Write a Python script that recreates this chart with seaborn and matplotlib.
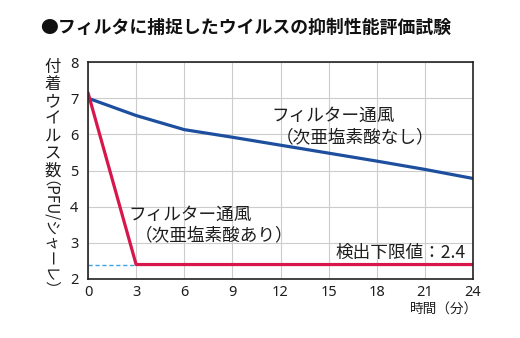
import matplotlib
matplotlib.use("Agg")
import matplotlib.pyplot as plt
import seaborn as sns
import pandas as pd

# Data
hours = [0, 3, 6, 9, 12, 15, 18, 21, 24]
no_hocl = [7.0, 6.52, 6.13, 5.92, 5.70, 5.48, 5.26, 5.03, 4.78]
with_hocl = [7.15, 2.4, 2.4, 2.4, 2.4, 2.4, 2.4, 2.4, 2.4]
limit_x = [0, 3]
limit_y = [2.4, 2.4]
xticks = [0, 3, 6, 9, 12, 15, 18, 21, 24]
yticks = [2, 3, 4, 5, 6, 7, 8]

sns.set_theme(style="white")
plt.rcParams['font.family'] = ['Noto Sans CJK JP', 'DejaVu Sans']

BLUE = "#1d4f9e"
RED = "#d7164c"
DASH = "#3ea3e3"
TXT = "#1e1e1e"

fig = plt.figure(figsize=(5.2, 3.38), dpi=100)
ax = fig.add_axes([88/520, 1-279/338, (473-88)/520, (279-62)/338])

df = pd.DataFrame({"t": hours, "a": no_hocl, "b": with_hocl})
sns.lineplot(x=limit_x, y=limit_y, ax=ax, color=DASH, lw=1.0, linestyle=(0, (3, 2)))
sns.lineplot(data=df, x="t", y="a", ax=ax, color=BLUE, lw=2.3)
sns.lineplot(data=df, x="t", y="b", ax=ax, color=RED, lw=2.3)

ax.set_xlim(0, 24)
ax.set_ylim(2, 8)
ax.set_xticks(xticks)
ax.set_yticks(yticks)
ax.set_xticklabels([str(v) for v in xticks], fontsize=10.5, family='Noto Sans')
ax.set_yticklabels([str(v) for v in yticks], fontsize=10.5, family='Noto Sans')
ax.tick_params(axis='x', length=0, pad=4, colors=TXT)
ax.tick_params(axis='y', length=0, pad=7, colors=TXT)
ax.grid(True, color="#cccccc", lw=0.8)
ax.set_axisbelow(True)
for s in ax.spines.values():
    s.set_color("#222222")
    s.set_linewidth(1.2)
ax.set_xlabel("")
ax.set_ylabel("")

# annotations
fs = 12.7
ax.text(11.45, 6.51, "フィルター通風", fontsize=fs, ha='left', va='center', color=TXT)
ax.text(11.7, 5.93, "（次亜塩素酸なし）", fontsize=fs, ha='left', va='center', color=TXT)
ax.text(2.55, 3.77, "フィルター通風", fontsize=fs, ha='left', va='center', color=TXT)
ax.text(2.9, 3.22, "（次亜塩素酸あり）", fontsize=fs, ha='left', va='center', color=TXT)
ax.text(23.55, 2.72, "検出下限値：2.4", fontsize=fs, ha='right', va='center', color=TXT)

fig.text(478/520, 1-309/338, "時間（分）", fontsize=9.8, ha='right', va='center', color=TXT)

# y label: upright stacked characters then rotated part
fig.text(53/520, 1-119/338, "付\n着\nウ\nイ\nル\nス\n数", fontsize=11.8, ha='center', va='center',
         linespacing=1.02, color=TXT)
fig.text(41/520, 1-243/338, "（PFU/シャーレ）", fontsize=11, ha='center', va='center',
         rotation=-90, color=TXT)

fig.text(40/520, 1-28/338, "●フィルタに捕捉したウイルスの抑制性能評価試験", fontsize=12.85,
         fontweight='bold', ha='left', va='center', color='#111111')

fig.savefig("out.png", dpi=100)
